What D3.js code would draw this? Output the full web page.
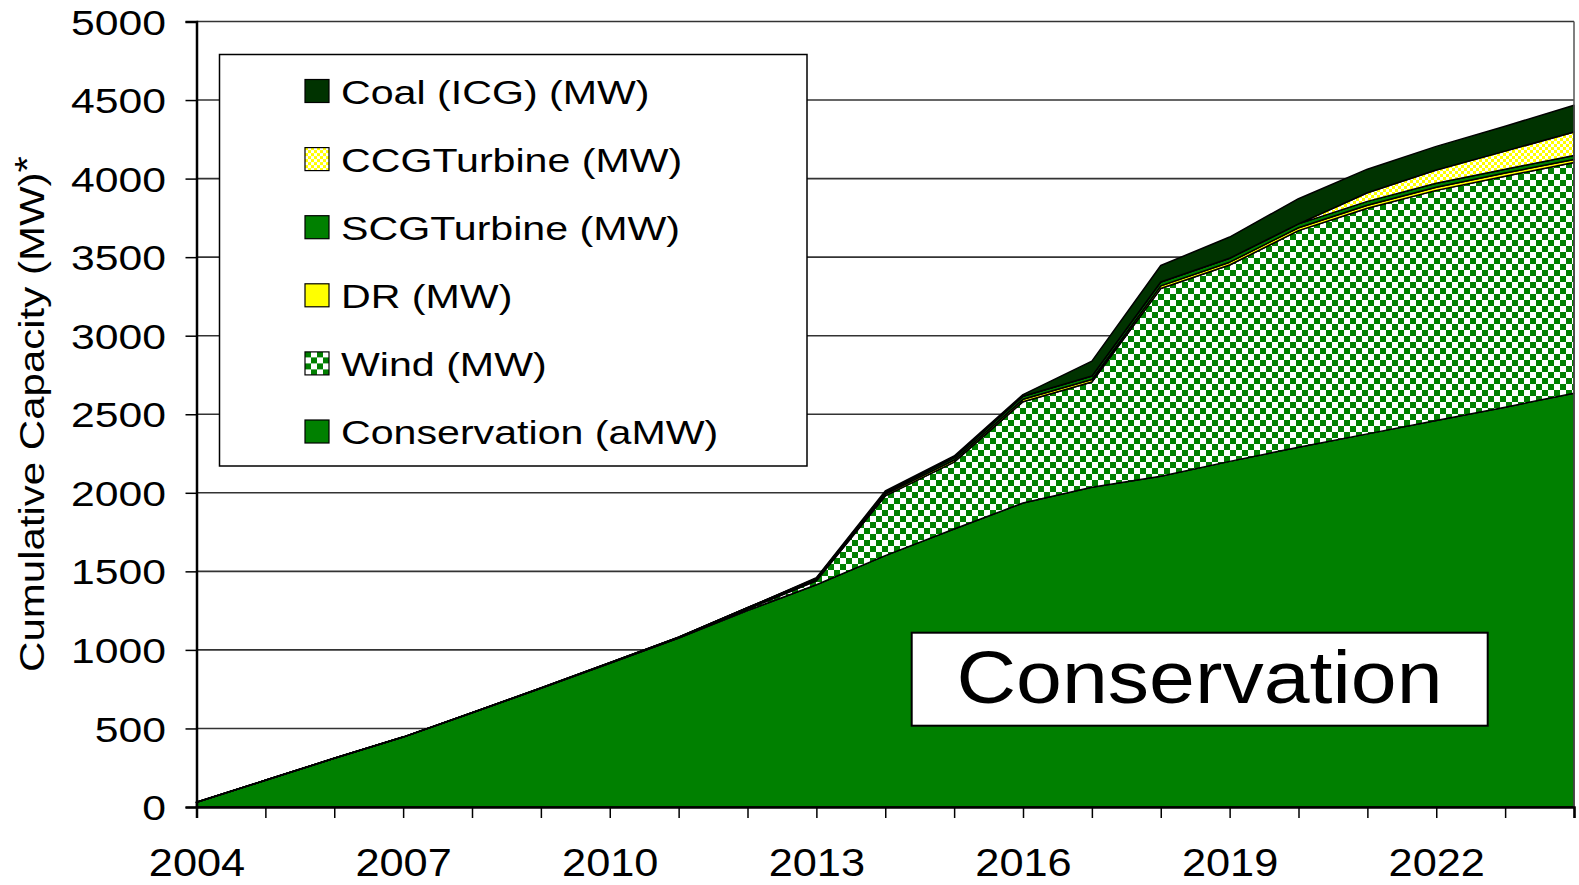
<html>
<head>
  <meta charset="utf-8">
  <title>Cumulative Capacity</title>
  <script src="https://cdnjs.cloudflare.com/ajax/libs/d3/7.8.5/d3.min.js"></script>
  <style>
    body { margin: 0; background: #fff; }
    text { font-family: "Liberation Sans", Arial, sans-serif; fill: #000; }
  </style>
</head>
<body>
  <svg></svg>
  <script>
// data (cumulative MW by year)
var years = [2004,2005,2006,2007,2008,2009,2010,2011,2012,2013,2014,2015,2016,2017,2018,2019,2020,2021,2022,2023,2024];
var conservation = [30,170,310,445,600,755,915,1075,1250,1415,1600,1770,1935,2035,2105,2200,2290,2375,2460,2545,2634];
var wind = [0,0,0,0,0,0,0,0,10,25,380,425,645,670,1195,1250,1379,1436,1465,1470,1468];
var dr   = [0,0,0,0,0,2,4,6,8,10,12,14,15,16,17,18,18,19,20,20,20];
var scg  = [0,0,0,0,0,0,0,0,0,5,10,15,20,22,25,25,25,25,25,25,25];
var ccg  = [0,0,0,0,0,0,0,0,0,0,0,0,0,0,0,0,0,55,85,115,150];
var coal = [0,0,0,0,0,0,0,0,0,5,10,10,10,95,105,135,160,150,150,158,170];
var yTicks = [0,500,1000,1500,2000,2500,3000,3500,4000,4500,5000];
var xLabelYears = [2004,2007,2010,2013,2016,2019,2022];
var seriesKeys = ["cons","wind","dr","scg","ccg","coal"];
var legendNames = {
  coal: "Coal (ICG) (MW)", ccg: "CCGTurbine (MW)", scg: "SCGTurbine (MW)",
  dr: "DR (MW)", wind: "Wind (MW)", cons: "Conservation (aMW)"
};

var w = 1579, h = 885;
var svg = d3.select("svg").attr("width", w).attr("height", h);

var x = d3.scaleLinear().domain([2004, 2024]).range([196.5, 1574]);
var y = d3.scaleLinear().domain([0, 5000]).range([807, 21.5]);

// stretch text horizontally, the original looks widened
function stretch(sel, f) {
  sel.each(function() {
    var len = this.getComputedTextLength();
    d3.select(this).attr("textLength", len * f).attr("lengthAdjust", "spacingAndGlyphs");
  });
}

var defs = svg.append("defs");
var wp = defs.append("pattern").attr("id", "windPat").attr("patternUnits", "userSpaceOnUse")
  .attr("width", 12).attr("height", 12);
wp.append("rect").attr("width", 12).attr("height", 12).attr("fill", "#fff");
wp.append("rect").attr("width", 6).attr("height", 6).attr("fill", "#008000");
wp.append("rect").attr("x", 6).attr("y", 6).attr("width", 6).attr("height", 6).attr("fill", "#008000");
var cp = defs.append("pattern").attr("id", "ccgPat").attr("patternUnits", "userSpaceOnUse")
  .attr("width", 6).attr("height", 6);
cp.append("rect").attr("width", 6).attr("height", 6).attr("fill", "#fff");
cp.append("rect").attr("width", 3).attr("height", 3).attr("fill", "#ffff00");
cp.append("rect").attr("x", 3).attr("y", 3).attr("width", 3).attr("height", 3).attr("fill", "#ffff00");

var fills = {
  cons: "#008000", wind: "url(#windPat)", dr: "#ffff00",
  scg: "#008000", ccg: "url(#ccgPat)", coal: "#003300"
};

// gridlines
svg.append("g").selectAll("line").data(yTicks.slice(1)).enter().append("line")
  .attr("x1", x(2004)).attr("x2", x(2024))
  .attr("y1", function(d) { return y(d); }).attr("y2", function(d) { return y(d); })
  .attr("stroke", "#333").attr("stroke-width", 1.6);

// stacked areas
var rows = years.map(function(yr, i) {
  return { year: yr, cons: conservation[i], wind: wind[i], dr: dr[i], scg: scg[i], ccg: ccg[i], coal: coal[i] };
});
var stack = d3.stack().keys(seriesKeys);
var layers = stack(rows);
var area = d3.area()
  .x(function(d) { return x(d.data.year); })
  .y0(function(d) { return y(d[0]); })
  .y1(function(d) { return y(d[1]); });

svg.append("g").selectAll("path").data(layers).enter().append("path")
  .attr("d", area)
  .attr("fill", function(d) { return fills[d.key]; })
  .attr("stroke", "#000")
  .attr("stroke-width", 1.5)
  .attr("stroke-linejoin", "round");

// right border
svg.append("line").attr("x1", x(2024)).attr("x2", x(2024)).attr("y1", y(5000)).attr("y2", y(0))
  .attr("stroke", "#555").attr("stroke-width", 1.5);

// axes
var xAxis = d3.axisBottom(x).tickValues(years).tickSize(11)
  .tickFormat(function(d) { return xLabelYears.indexOf(d) >= 0 ? d : ""; });
var gx = svg.append("g").attr("transform", "translate(0," + y(0) + ")").call(xAxis);
gx.select(".domain").attr("stroke", "#000").attr("stroke-width", 2.5);
gx.selectAll(".tick line").attr("stroke", "#000").attr("stroke-width", 1.5);
gx.selectAll(".tick text").attr("y", 69).attr("dy", 0)
  .style("font-family", "Liberation Sans, Arial, sans-serif").style("font-size", "38px").attr("fill", "#000");
stretch(gx.selectAll(".tick text"), 1.14);

var yAxis = d3.axisLeft(y).tickValues(yTicks).tickSize(11).tickFormat(function(d) { return d; });
var gy = svg.append("g").attr("transform", "translate(" + x(2004) + ",0)").call(yAxis);
gy.select(".domain").attr("stroke", "#000").attr("stroke-width", 2.5);
gy.selectAll(".tick line").attr("stroke", "#000").attr("stroke-width", 1.5);
gy.selectAll(".tick text").attr("x", -30.5).attr("dy", "0.36em")
  .style("font-family", "Liberation Sans, Arial, sans-serif").style("font-size", "35px").attr("fill", "#000");
stretch(gy.selectAll(".tick text"), 1.22);

// y title
var title = svg.append("text")
  .attr("transform", "translate(44,414) rotate(-90)")
  .attr("text-anchor", "middle")
  .style("font-size", "35px");
title.append("tspan").text("Cumulative Capacity (MW)");
title.append("tspan").text("*").attr("dy", "-0.15em");
stretch(title, 1.2);

// legend
var legend = svg.append("g");
legend.append("rect").attr("x", 219.5).attr("y", 54.5).attr("width", 587.5).attr("height", 411.5)
  .attr("fill", "#fff").attr("stroke", "#000").attr("stroke-width", 1.5);
var legendOrder = seriesKeys.slice().reverse();
var items = legend.selectAll(".item").data(legendOrder).enter().append("g")
  .attr("transform", function(d, i) { return "translate(305," + (91 + i * 68.1) + ")"; });
items.append("rect").attr("x", 0).attr("y", -11.5).attr("width", 24).attr("height", 23)
  .attr("fill", function(d) { return fills[d]; })
  .attr("stroke", "#000").attr("stroke-width", 1.2);
var lt = items.append("text").attr("x", 36).attr("y", 12.5)
  .style("font-size", "34px").text(function(d) { return legendNames[d]; });
stretch(lt, 1.21);

// conservation label
svg.append("rect").attr("x", 911.7).attr("y", 632.7).attr("width", 576).attr("height", 93)
  .attr("fill", "#fff").attr("stroke", "#000").attr("stroke-width", 2);
var cl = svg.append("text").attr("x", 1199.6).attr("y", 703).attr("text-anchor", "middle")
  .style("font-size", "75px").text("Conservation");
stretch(cl, 1.1);
  </script>
</body>
</html>
